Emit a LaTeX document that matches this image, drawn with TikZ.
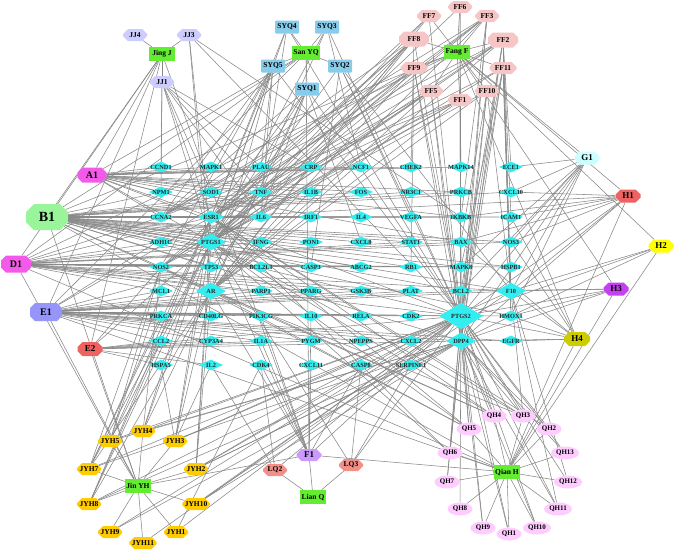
\documentclass[tikz,border=0pt]{standalone}
\usepackage{fontspec}
\setmainfont{Liberation Serif}
\usetikzlibrary{shapes.geometric,shapes.misc}
\pgfdeclarelayer{background}
\pgfsetlayers{background,main}
\definecolor{edgegray}{RGB}{136,136,136}
\definecolor{tcyan}{RGB}{50,238,240}
\definecolor{herbgreen}{RGB}{100,236,50}
\definecolor{jjcol}{RGB}{204,204,255}
\definecolor{syqcol}{RGB}{136,204,236}
\definecolor{ffcol}{RGB}{246,198,198}
\definecolor{magcol}{RGB}{244,90,234}
\definecolor{b1col}{RGB}{153,245,153}
\definecolor{e1col}{RGB}{150,150,250}
\definecolor{redcol}{RGB}{238,98,98}
\definecolor{g1col}{RGB}{204,255,255}
\definecolor{h2col}{RGB}{255,255,0}
\definecolor{h3col}{RGB}{196,64,240}
\definecolor{h4col}{RGB}{204,204,0}
\definecolor{f1col}{RGB}{204,153,255}
\definecolor{lqcol}{RGB}{242,144,136}
\definecolor{jyhcol}{RGB}{255,204,0}
\definecolor{qhcol}{RGB}{255,204,255}
\newcommand\tg[4][]{\node[tgt,#1,label={[tlbl]center:#4}] (#4) at (#2,#3) {};}
\begin{document}
\begin{tikzpicture}[x=1pt,y=-1pt,
  edge/.style={draw=edgegray, line width=0.55pt},
  herb/.style={rectangle, fill=herbgreen, minimum width=26, minimum height=14, inner sep=1pt, font=\fontsize{7.5}{8}\selectfont\bfseries},
  syq/.style={rectangle, rounded corners=1pt, fill=syqcol, minimum width=24, minimum height=13, inner sep=1pt, font=\fontsize{7.5}{8}\selectfont\bfseries},
  oct/.style={chamfered rectangle, chamfered rectangle xsep=2.5pt, chamfered rectangle ysep=2.5pt, inner sep=0pt, minimum width=24, minimum height=12, font=\fontsize{7.5}{8}\selectfont\bfseries},
  qh/.style={ellipse, fill=qhcol, inner sep=0pt, minimum width=25, minimum height=13, font=\fontsize{7}{8}\selectfont\bfseries},
  tgt/.style={diamond, fill=tcyan, inner sep=0pt, minimum width=24, minimum height=11},
  tgtL/.style={minimum width=30, minimum height=17},
  tgtXL/.style={minimum width=44, minimum height=26},
  tlbl/.style={font=\fontsize{6.3}{6.8}\selectfont\bfseries, inner sep=0pt, text=black!85}
]
\useasboundingbox (0,0) rectangle (676,552);

% herbs
\node[herb] (JingJ) at (162,54) {Jing J};
\node[herb] (SanYQ) at (306,53) {San YQ};
\node[herb] (FangF) at (457,52) {Fang F};
\node[herb] (JinYH) at (138,486) {Jin YH};
\node[herb] (LianQ) at (313,497) {Lian Q};
\node[herb] (QianH) at (507,472) {Qian H};

% Jing J ingredients
\node[oct, fill=jjcol] (JJ4) at (135,35) {JJ4};
\node[oct, fill=jjcol] (JJ3) at (189,35) {JJ3};
\node[oct, fill=jjcol] (JJ1) at (162,82) {JJ1};

% San YQ ingredients
\node[syq] (SYQ4) at (287,27) {SYQ4};
\node[syq] (SYQ3) at (327,27) {SYQ3};
\node[syq] (SYQ5) at (273,66) {SYQ5};
\node[syq] (SYQ2) at (340,66) {SYQ2};
\node[syq] (SYQ1) at (307,89) {SYQ1};

% Fang F ingredients
\node[oct, fill=ffcol] (FF7) at (429,16) {FF7};
\node[oct, fill=ffcol] (FF6) at (460,7) {FF6};
\node[oct, fill=ffcol] (FF3) at (487,16) {FF3};
\node[oct, fill=ffcol, minimum width=30, minimum height=15] (FF8) at (414,39) {FF8};
\node[oct, fill=ffcol, minimum width=30, minimum height=15] (FF2) at (503,40) {FF2};
\node[oct, fill=ffcol, minimum width=27] (FF9) at (414,68) {FF9};
\node[oct, fill=ffcol, minimum width=27] (FF11) at (503,68) {FF11};
\node[oct, fill=ffcol] (FF5) at (431,91) {FF5};
\node[oct, fill=ffcol] (FF10) at (487,91) {FF10};
\node[oct, fill=ffcol] (FF1) at (460,100) {FF1};

% shared ingredients
\node[oct, fill=magcol, minimum width=29, minimum height=15, font=\fontsize{10}{11}\selectfont\bfseries] (A1) at (92,175) {A1};
\node[oct, fill=b1col, minimum width=42, minimum height=26, chamfered rectangle xsep=4pt, chamfered rectangle ysep=4pt, font=\fontsize{14}{15}\selectfont\bfseries] (B1) at (47,217) {B1};
\node[oct, fill=magcol, minimum width=30, minimum height=17, font=\fontsize{10}{11}\selectfont\bfseries] (D1) at (16,264) {D1};
\node[oct, fill=e1col, minimum width=32, minimum height=18, font=\fontsize{10}{11}\selectfont\bfseries] (E1) at (46,312) {E1};
\node[oct, fill=redcol, minimum width=25, minimum height=14, font=\fontsize{9}{10}\selectfont\bfseries] (E2) at (90,349) {E2};
\node[oct, fill=g1col, minimum width=25, minimum height=13, font=\fontsize{9}{10}\selectfont\bfseries] (G1) at (587,158) {G1};
\node[oct, fill=redcol, minimum width=25, minimum height=13, font=\fontsize{9}{10}\selectfont\bfseries] (H1) at (628,196) {H1};
\node[oct, fill=h2col, minimum width=25, minimum height=13, font=\fontsize{9}{10}\selectfont\bfseries] (H2) at (661,246) {H2};
\node[oct, fill=h3col, minimum width=25, minimum height=13, font=\fontsize{9}{10}\selectfont\bfseries] (H3) at (616,289) {H3};
\node[oct, fill=h4col, minimum width=26, minimum height=14, font=\fontsize{9}{10}\selectfont\bfseries] (H4) at (577,339) {H4};
\node[oct, fill=f1col, minimum width=25, minimum height=12, font=\fontsize{9}{10}\selectfont\bfseries] (F1) at (309,455) {F1};

% Lian Q ingredients
\node[oct, fill=lqcol] (LQ2) at (275,470) {LQ2};
\node[oct, fill=lqcol] (LQ3) at (351,465) {LQ3};

% Jin YH ingredients
\node[oct, fill=jyhcol] (JYH4) at (143,431) {JYH4};
\node[oct, fill=jyhcol] (JYH5) at (110,441) {JYH5};
\node[oct, fill=jyhcol] (JYH3) at (175,441) {JYH3};
\node[oct, fill=jyhcol] (JYH7) at (89,469) {JYH7};
\node[oct, fill=jyhcol] (JYH2) at (196,469) {JYH2};
\node[oct, fill=jyhcol] (JYH8) at (89,504) {JYH8};
\node[oct, fill=jyhcol, minimum width=26] (JYH10) at (196,504) {JYH10};
\node[oct, fill=jyhcol] (JYH9) at (110,532) {JYH9};
\node[oct, fill=jyhcol, minimum width=26] (JYH11) at (143,543) {JYH11};
\node[oct, fill=jyhcol] (JYH1) at (176,532) {JYH1};

% Qian H ingredients
\node[qh] (QH4) at (494,416) {QH4};
\node[qh] (QH3) at (523,416) {QH3};
\node[qh] (QH5) at (469,429) {QH5};
\node[qh] (QH2) at (549,429) {QH2};
\node[qh] (QH6) at (450,453) {QH6};
\node[qh, minimum width=28] (QH13) at (565,453) {QH13};
\node[qh] (QH7) at (447,482) {QH7};
\node[qh, minimum width=28] (QH12) at (568,482) {QH12};
\node[qh] (QH8) at (460,509) {QH8};
\node[qh, minimum width=28] (QH11) at (558,509) {QH11};
\node[qh] (QH9) at (483,528) {QH9};
\node[qh, minimum width=28] (QH10) at (537,528) {QH10};
\node[qh] (QH1) at (509,534) {QH1};

% targets
\tg{161}{167}{CCND1} \tg{211}{167}{MAPK1} \tg{261}{167}{PLAU} \tg{311}{167}{CRP} \tg{361}{167}{NCF1} \tg{411}{167}{CHEK2} \tg{461}{167}{MAPK14} \tg{511}{167}{ECE1}
\tg{161}{192}{NPM1} \tg{211}{192}{SOD1} \tg{261}{192}{TNF} \tg{311}{192}{IL1B} \tg{361}{192}{FOS} \tg{411}{192}{NR3C1} \tg{461}{192}{PRKCB} \tg{511}{192}{CXCL10}
\tg{161}{217}{CCNA2} \tg[minimum width=27,minimum height=13]{211}{217}{ESR1} \tg{261}{217}{IL6} \tg{311}{217}{IRF1} \tg{361}{217}{IL4} \tg{411}{217}{VEGFA} \tg{461}{217}{IKBKB} \tg{511}{217}{ICAM1}
\tg{161}{242}{ADH1C} \tg[tgtL]{211}{242}{PTGS1} \tg{261}{242}{IFNG} \tg{311}{242}{PON1} \tg{361}{242}{CXCL8} \tg{411}{242}{STAT1} \tg{461}{242}{BAX} \tg{511}{242}{NOS3}
\tg{161}{267}{NOS2} \tg{211}{267}{TP53} \tg{261}{267}{BCL2L1} \tg{311}{267}{CASP3} \tg{361}{267}{ABCG2} \tg{411}{267}{RB1} \tg{461}{267}{MAPK8} \tg{511}{267}{HSPB1}
\tg{161}{291}{MCL1} \tg[tgtL]{211}{291}{AR} \tg{261}{291}{PARP1} \tg{311}{291}{PPARG} \tg{361}{291}{GSK3B} \tg{411}{291}{PLAT} \tg{461}{291}{BCL2} \tg[tgtL]{511}{291}{F10}
\tg{161}{316}{PRKCA} \tg{211}{316}{CD40LG} \tg{261}{316}{PIK3CG} \tg{311}{316}{IL10} \tg{361}{316}{RELA} \tg{411}{316}{CDK2} \tg[tgtXL]{461}{316}{PTGS2} \tg{511}{316}{HMOX1}
\tg{161}{341}{CCL2} \tg{211}{341}{CYP3A4} \tg{261}{341}{IL1A} \tg{311}{341}{PYGM} \tg{361}{341}{NPEPPS} \tg{411}{341}{CXCL2} \tg[tgtL]{461}{341}{DPP4} \tg{511}{341}{EGFR}
\tg{161}{365}{HSPA5} \tg{211}{365}{IL2} \tg{261}{365}{CDK4} \tg{311}{365}{CXCL11} \tg{361}{365}{CASP8} \tg{411}{365}{SERPINE1}

\begin{pgfonlayer}{background}
\fill[white] (0,0) rectangle (676,552);
% herb - ingredient
\foreach \t in {JJ1,JJ3,JJ4,A1,B1,D1,E1,E2,F1} \draw[edge] (JingJ) -- (\t);
\foreach \t in {SYQ1,SYQ2,SYQ3,SYQ4,SYQ5,A1,B1,D1,E1,F1} \draw[edge] (SanYQ) -- (\t);
\foreach \t in {FF1,FF2,FF3,FF5,FF6,FF7,FF8,FF9,FF10,FF11,G1,H1,H2,H3,H4,B1,D1,E1} \draw[edge] (FangF) -- (\t);
\foreach \t in {JYH1,JYH2,JYH3,JYH4,JYH5,JYH7,JYH8,JYH9,JYH10,JYH11,B1,D1,E1,E2,F1} \draw[edge] (JinYH) -- (\t);
\foreach \t in {LQ2,LQ3,F1} \draw[edge] (LianQ) -- (\t);
\foreach \t in {QH1,QH2,QH3,QH4,QH5,QH6,QH7,QH8,QH9,QH10,QH11,QH12,QH13,F1,H1,H2,H3,H4,B1,D1,E1} \draw[edge] (QianH) -- (\t);
% ingredient - target
\foreach \t in {CCND1,MAPK1,NPM1,SOD1,CCNA2,ESR1,PTGS1,TNF,IL6,PLAU,CRP,NCF1,CHEK2,MAPK14,PRKCB,IKBKB,PTGS2,BAX,IL1B,FOS} \draw[edge] (A1) -- (\t);
\foreach \t in {NPM1,CCNA2,ESR1,ADH1C,PTGS1,NOS2,TP53,AR,IFNG,IL6,IRF1,IL4,VEGFA,PON1,CXCL8,STAT1,BAX,NOS3,ICAM1,IKBKB,PRKCB,CXCL10,MAPK8,BCL2,F10,PTGS2,HMOX1,TNF,IL1B,FOS,CASP3,ABCG2,RB1,HSPB1,DPP4,NR3C1} \draw[edge] (B1) -- (\t);
\foreach \t in {ADH1C,NOS2,TP53,PTGS1,BCL2L1,CASP3,ABCG2,RB1,MAPK8,HSPB1,AR,PARP1,PPARG,F10,PTGS2,ESR1,IFNG,STAT1,BAX,NOS3,GSK3B,PLAT,MCL1,CCNA2} \draw[edge] (D1) -- (\t);
\foreach \t in {MCL1,PRKCA,CD40LG,PIK3CG,IL10,RELA,CDK2,PTGS2,HMOX1,AR,PARP1,PPARG,GSK3B,PLAT,BCL2,F10,CCL2,CYP3A4,DPP4,EGFR,TP53,ESR1,IL1A,PYGM,NPEPPS,CXCL2} \draw[edge] (E1) -- (\t);
\foreach \t in {CCL2,CYP3A4,IL1A,PYGM,PTGS2,DPP4,HSPA5,IL2,NOS2,PTGS1} \draw[edge] (E2) -- (\t);
\foreach \t in {CDK4,CXCL11,IL1A,PTGS2,CASP8,PIK3CG,AR,PTGS1,IL10} \draw[edge] (F1) -- (\t);
\foreach \t in {ECE1,NOS3,CXCL10,PTGS2,F10,HMOX1,BCL2,MAPK8,DPP4} \draw[edge] (G1) -- (\t);
\foreach \t in {ICAM1,NOS3,BAX,PTGS2,DPP4,ESR1,IKBKB,CXCL10,F10} \draw[edge] (H1) -- (\t);
\foreach \t in {PTGS2,F10,HMOX1} \draw[edge] (H2) -- (\t);
\foreach \t in {PTGS2,F10,HMOX1,BCL2,DPP4} \draw[edge] (H3) -- (\t);
\foreach \t in {PTGS2,DPP4,EGFR,HMOX1,F10,ICAM1,NOS3,BAX} \draw[edge] (H4) -- (\t);
\foreach \t in {PLAU,CRP,CCND1,TNF,ESR1,PTGS1,NPM1,SOD1,IL6} \draw[edge] (JJ1) -- (\t);
\foreach \t in {PTGS2,AR,PTGS1,IKBKB} \draw[edge] (JJ3) -- (\t);
\foreach \t in {PTGS1,PTGS2,AR,ESR1,IL6,TNF,CXCL8,CCNA2} \draw[edge] (SYQ1) -- (\t);
\foreach \t in {PTGS2,PTGS1,VEGFA,CASP3,F10} \draw[edge] (SYQ2) -- (\t);
\foreach \t in {PTGS1,PTGS2,NCF1,AR} \draw[edge] (SYQ3) -- (\t);
\foreach \t in {PTGS1,PTGS2,TNF,ESR1} \draw[edge] (SYQ4) -- (\t);
\foreach \t in {PTGS1,PTGS2,ESR1,IL6,PLAU,CCNA2,AR,NOS2,MAPK1} \draw[edge] (SYQ5) -- (\t);
\foreach \t in {PTGS2,PTGS1,ESR1,AR,DPP4,MAPK14,NOS2,CCNA2} \draw[edge] (FF1) -- (\t);
\foreach \t in {PTGS2,PTGS1,ESR1,AR,F10,DPP4,NOS2,CCNA2,ECE1,ICAM1,HMOX1,BCL2} \draw[edge] (FF2) -- (\t);
\foreach \t in {PTGS2,PTGS1,ESR1,AR,DPP4,CCNA2,IKBKB,NOS2} \draw[edge] (FF3) -- (\t);
\foreach \t in {PTGS2,PTGS1,AR,DPP4,NOS2,ESR1} \draw[edge] (FF5) -- (\t);
\foreach \t in {PTGS2,PTGS1,DPP4} \draw[edge] (FF6) -- (\t);
\foreach \t in {PTGS2,ESR1,PTGS1,AR} \draw[edge] (FF7) -- (\t);
\foreach \t in {PTGS2,PTGS1,ESR1,AR,CHEK2,NOS2,TP53,CCNA2} \draw[edge] (FF8) -- (\t);
\foreach \t in {PTGS2,PTGS1,ESR1,DPP4,CCNA2,AR,RB1} \draw[edge] (FF9) -- (\t);
\foreach \t in {PTGS2,PTGS1,DPP4,F10,AR,BAX} \draw[edge] (FF10) -- (\t);
\foreach \t in {PTGS2,PTGS1,F10,DPP4,HMOX1,ESR1,MAPK8} \draw[edge] (FF11) -- (\t);
\foreach \t in {PTGS2,CDK4} \draw[edge] (JYH1) -- (\t);
\foreach \t in {PTGS2,ESR1,AR,PTGS1,DPP4,CXCL2,HMOX1} \draw[edge] (JYH2) -- (\t);
\foreach \t in {PTGS2,PTGS1,ESR1,AR,IL2,HSPA5,F10} \draw[edge] (JYH3) -- (\t);
\foreach \t in {PTGS2,PTGS1,AR,ESR1,NOS2,DPP4} \draw[edge] (JYH4) -- (\t);
\foreach \t in {PTGS2,PTGS1,NOS2,ESR1,MCL1,DPP4} \draw[edge] (JYH5) -- (\t);
\foreach \t in {PTGS2,PTGS1,AR,ESR1,NOS2,DPP4,PRKCA} \draw[edge] (JYH7) -- (\t);
\foreach \t in {PTGS2,PTGS1,AR,DPP4,ESR1,CCL2} \draw[edge] (JYH8) -- (\t);
\foreach \t in {PTGS2,DPP4} \draw[edge] (JYH9) -- (\t);
\foreach \t in {PTGS2,DPP4,F10} \draw[edge] (JYH10) -- (\t);
\foreach \t in {PTGS2} \draw[edge] (JYH11) -- (\t);
\foreach \t in {PTGS2,IL2,CDK4} \draw[edge] (LQ2) -- (\t);
\foreach \t in {PTGS2,CASP8,SERPINE1,PTGS1} \draw[edge] (LQ3) -- (\t);
\foreach \t in {PTGS2,DPP4} \draw[edge] (QH1) -- (\t);
\foreach \t in {PTGS2,DPP4,ESR1} \draw[edge] (QH2) -- (\t);
\foreach \t in {PTGS2,PTGS1,DPP4,F10,ESR1,AR} \draw[edge] (QH3) -- (\t);
\foreach \t in {PTGS2,PTGS1,DPP4,AR,ESR1,NOS2} \draw[edge] (QH4) -- (\t);
\foreach \t in {PTGS2,PTGS1,DPP4,AR,ESR1,NOS2} \draw[edge] (QH5) -- (\t);
\foreach \t in {PTGS2,DPP4,PTGS1,ESR1} \draw[edge] (QH6) -- (\t);
\foreach \t in {PTGS2,DPP4} \draw[edge] (QH7) -- (\t);
\foreach \t in {PTGS2} \draw[edge] (QH8) -- (\t);
\foreach \t in {PTGS2,DPP4} \draw[edge] (QH9) -- (\t);
\foreach \t in {PTGS2,DPP4} \draw[edge] (QH10) -- (\t);
\foreach \t in {PTGS2,DPP4,F10} \draw[edge] (QH11) -- (\t);
\foreach \t in {PTGS2,F10} \draw[edge] (QH12) -- (\t);
\foreach \t in {PTGS2,DPP4} \draw[edge] (QH13) -- (\t);
\end{pgfonlayer}
\end{tikzpicture}
\end{document}
